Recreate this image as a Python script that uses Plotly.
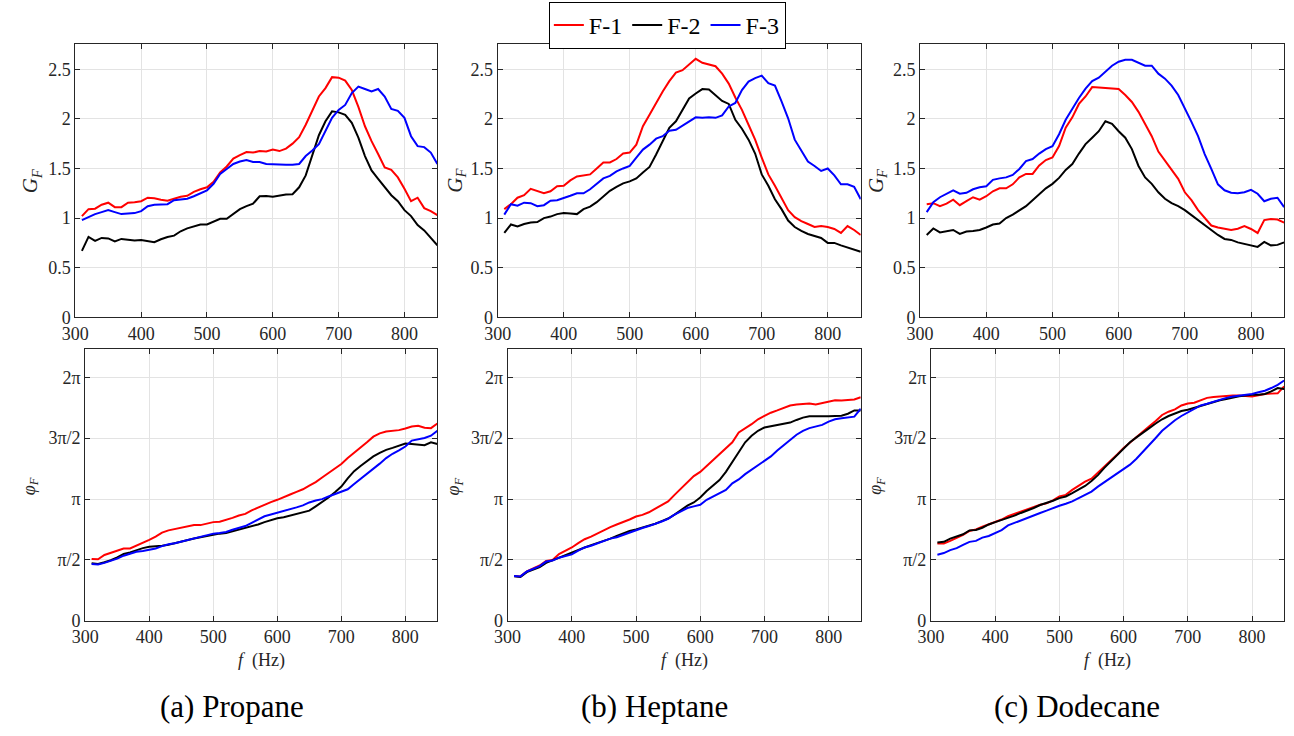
import math
import plotly.graph_objects as go
from plotly.subplots import make_subplots

# ---------------- data ----------------
freq = list(range(310, 860, 10))
series_names = ["F-1", "F-2", "F-3"]
series_colors = ["#ff0000", "#000000", "#0000ff"]
captions = ["(a) Propane", "(b) Heptane", "(c) Dodecane"]

# Gain G_F  -- propane
gain_propane_f1 = [1.02,1.09,1.095,1.135,1.155,1.11,1.11,1.155,1.16,1.17,
                   1.205,1.2,1.185,1.175,1.195,1.215,1.225,1.265,1.29,1.31,
                   1.365,1.46,1.52,1.6,1.635,1.665,1.66,1.675,1.67,1.69,
                   1.675,1.70,1.75,1.815,1.94,2.09,2.225,2.31,2.42,2.415,
                   2.385,2.29,2.12,1.925,1.775,1.645,1.51,1.485,1.41,1.295,
                   1.17,1.205,1.10,1.07,1.03]
gain_propane_f2 = [0.67,0.81,0.77,0.80,0.795,0.765,0.79,0.78,0.775,0.78,
                   0.77,0.757,0.787,0.81,0.823,0.867,0.896,0.92,0.936,0.936,
                   0.963,0.993,0.993,1.043,1.09,1.12,1.145,1.22,1.222,1.215,
                   1.228,1.238,1.24,1.31,1.43,1.63,1.835,1.975,2.075,2.065,
                   2.04,1.96,1.81,1.625,1.48,1.395,1.31,1.23,1.17,1.08,
                   1.02,0.93,0.876,0.80,0.725]
gain_propane_f3 = [0.98,1.01,1.04,1.06,1.08,1.06,1.04,1.045,1.05,1.07,
                   1.12,1.135,1.135,1.14,1.18,1.19,1.195,1.22,1.25,1.28,
                   1.345,1.445,1.495,1.545,1.57,1.585,1.565,1.565,1.545,1.54,
                   1.537,1.537,1.537,1.545,1.625,1.68,1.745,1.875,2.01,2.09,
                   2.14,2.26,2.325,2.30,2.275,2.30,2.225,2.10,2.08,2.01,
                   1.825,1.725,1.715,1.66,1.545]

# Gain G_F  -- heptane
gain_heptane_f1 = [1.09,1.14,1.205,1.23,1.295,1.27,1.25,1.27,1.32,1.325,
                   1.38,1.42,1.43,1.44,1.50,1.56,1.56,1.595,1.65,1.66,
                   1.74,1.925,2.04,2.165,2.275,2.38,2.465,2.49,2.55,2.605,
                   2.565,2.545,2.53,2.455,2.355,2.215,2.09,1.94,1.79,1.61,
                   1.44,1.325,1.21,1.08,1.01,0.97,0.94,0.91,0.92,0.91,
                   0.89,0.85,0.92,0.88,0.83]
gain_heptane_f2 = [0.85,0.935,0.915,0.94,0.955,0.96,1.00,1.015,1.04,1.05,
                   1.045,1.04,1.09,1.115,1.16,1.215,1.275,1.315,1.35,1.37,
                   1.40,1.46,1.515,1.64,1.775,1.91,1.975,2.09,2.205,2.255,
                   2.30,2.295,2.24,2.18,2.15,1.99,1.90,1.79,1.65,1.44,
                   1.325,1.19,1.09,0.975,0.91,0.87,0.84,0.82,0.80,0.75,
                   0.75,0.725,0.705,0.68,0.66]
gain_heptane_f3 = [1.035,1.14,1.125,1.155,1.15,1.12,1.13,1.175,1.18,1.20,
                   1.225,1.25,1.25,1.29,1.35,1.40,1.425,1.47,1.50,1.525,
                   1.61,1.69,1.74,1.80,1.825,1.88,1.89,1.93,1.97,2.015,
                   2.01,2.015,2.01,2.035,2.125,2.16,2.29,2.375,2.41,2.435,
                   2.36,2.335,2.175,2.005,1.79,1.675,1.57,1.525,1.475,1.50,
                   1.43,1.34,1.34,1.315,1.19]

# Gain G_F  -- dodecane
gain_dodecane_f1 = [1.14,1.15,1.12,1.145,1.185,1.13,1.17,1.21,1.185,1.22,
                    1.27,1.30,1.30,1.34,1.41,1.445,1.445,1.53,1.585,1.61,
                    1.725,1.91,2.015,2.15,2.225,2.32,2.315,2.31,2.305,2.30,
                    2.24,2.17,2.07,1.94,1.825,1.67,1.575,1.485,1.395,1.26,
                    1.18,1.08,1.00,0.925,0.905,0.895,0.88,0.893,0.92,0.89,
                    0.85,0.98,0.99,0.985,0.955]
gain_dodecane_f2 = [0.83,0.895,0.855,0.865,0.88,0.84,0.865,0.87,0.88,0.905,
                    0.935,0.945,1.00,1.035,1.08,1.12,1.18,1.245,1.30,1.345,
                    1.405,1.485,1.545,1.65,1.745,1.81,1.875,1.975,1.95,1.875,
                    1.81,1.695,1.525,1.41,1.345,1.26,1.195,1.15,1.12,1.08,
                    1.03,0.98,0.93,0.88,0.83,0.79,0.78,0.755,0.74,0.73,
                    0.71,0.76,0.725,0.73,0.755]
gain_dodecane_f3 = [1.06,1.16,1.21,1.245,1.28,1.245,1.255,1.29,1.31,1.32,
                    1.385,1.40,1.41,1.435,1.495,1.575,1.595,1.65,1.695,1.725,
                    1.845,1.99,2.10,2.21,2.305,2.38,2.415,2.475,2.535,2.575,
                    2.595,2.595,2.565,2.535,2.535,2.455,2.405,2.335,2.24,2.11,
                    1.97,1.825,1.645,1.495,1.34,1.28,1.255,1.25,1.26,1.285,
                    1.245,1.17,1.195,1.205,1.11]

# Phase phi_F (rad) -- propane
phase_propane_f1 = [1.595,1.586,1.696,1.747,1.807,1.866,1.866,1.934,2.019,2.086,
                    2.171,2.273,2.332,2.366,2.40,2.443,2.468,2.468,2.502,2.545,
                    2.553,2.595,2.655,2.714,2.757,2.85,2.926,2.994,3.062,3.121,
                    3.198,3.257,3.325,3.393,3.486,3.579,3.698,3.817,3.927,4.046,
                    4.198,4.326,4.461,4.606,4.75,4.835,4.885,4.894,4.919,4.962,
                    5.013,5.03,4.979,4.97,5.089]
phase_propane_f2 = [1.484,1.467,1.51,1.561,1.637,1.722,1.764,1.824,1.874,1.908,
                    1.917,1.934,1.959,2.002,2.044,2.078,2.12,2.154,2.188,2.222,
                    2.248,2.265,2.307,2.341,2.383,2.443,2.485,2.545,2.604,2.646,
                    2.672,2.714,2.74,2.782,2.841,2.952,3.062,3.181,3.316,3.461,
                    3.673,3.859,3.995,4.122,4.241,4.334,4.41,4.461,4.512,4.572,
                    4.563,4.538,4.529,4.606,4.563]
phase_propane_f3 = [1.467,1.45,1.493,1.544,1.603,1.679,1.73,1.781,1.798,1.824,
                    1.866,1.925,1.976,2.002,2.044,2.087,2.12,2.163,2.205,2.248,
                    2.265,2.29,2.349,2.40,2.443,2.528,2.612,2.697,2.74,2.782,
                    2.833,2.884,2.926,2.977,3.053,3.104,3.138,3.206,3.265,3.316,
                    3.393,3.528,3.656,3.783,3.927,4.054,4.198,4.309,4.394,4.495,
                    4.648,4.682,4.716,4.775,4.902]

# Phase phi_F (rad) -- heptane
phase_heptane_f1 = [1.153,1.145,1.272,1.34,1.425,1.544,1.569,1.722,1.807,1.891,
                    2.002,2.103,2.171,2.256,2.341,2.417,2.485,2.545,2.612,2.689,
                    2.731,2.799,2.892,2.994,3.079,3.248,3.418,3.588,3.732,3.842,
                    3.995,4.156,4.309,4.436,4.606,4.86,4.962,5.072,5.199,5.284,
                    5.369,5.428,5.496,5.556,5.581,5.598,5.607,5.581,5.624,5.666,
                    5.691,5.683,5.691,5.708,5.768]
phase_heptane_f2 = [1.145,1.128,1.255,1.323,1.383,1.493,1.561,1.637,1.705,1.764,
                    1.832,1.891,1.951,2.002,2.061,2.12,2.188,2.256,2.316,2.358,
                    2.40,2.443,2.502,2.57,2.638,2.74,2.85,2.969,3.053,3.181,
                    3.35,3.478,3.63,3.842,4.097,4.377,4.606,4.775,4.902,4.987,
                    5.021,5.055,5.089,5.114,5.182,5.242,5.276,5.284,5.276,5.276,
                    5.284,5.293,5.343,5.428,5.428]
phase_heptane_f3 = [1.153,1.145,1.272,1.34,1.408,1.527,1.552,1.628,1.679,1.713,
                    1.807,1.891,1.934,1.993,2.061,2.12,2.154,2.214,2.29,2.341,
                    2.392,2.443,2.494,2.561,2.629,2.74,2.824,2.909,2.952,2.994,
                    3.121,3.206,3.291,3.376,3.545,3.647,3.783,3.902,4.012,4.122,
                    4.241,4.394,4.521,4.665,4.801,4.902,4.97,5.004,5.055,5.14,
                    5.199,5.225,5.242,5.267,5.471]

# Phase phi_F (rad) -- dodecane
phase_dodecane_f1 = [1.993,1.993,2.061,2.129,2.214,2.316,2.358,2.426,2.485,2.545,
                     2.612,2.697,2.757,2.816,2.884,2.952,2.994,3.028,3.104,3.206,
                     3.249,3.376,3.478,3.588,3.664,3.817,3.969,4.139,4.292,4.461,
                     4.606,4.733,4.877,5.021,5.157,5.31,5.394,5.454,5.556,5.607,
                     5.624,5.691,5.751,5.776,5.793,5.81,5.81,5.81,5.793,5.785,
                     5.818,5.852,5.861,5.869,6.047]
phase_dodecane_f2 = [2.019,2.036,2.12,2.171,2.231,2.332,2.341,2.40,2.485,2.545,
                     2.595,2.655,2.714,2.782,2.841,2.909,2.986,3.036,3.096,3.164,
                     3.206,3.291,3.376,3.478,3.605,3.758,3.944,4.114,4.283,4.436,
                     4.606,4.733,4.843,4.97,5.089,5.199,5.284,5.352,5.411,5.445,
                     5.496,5.556,5.598,5.64,5.691,5.725,5.767,5.793,5.81,5.835,
                     5.835,5.852,5.92,6.005,5.98]
phase_dodecane_f3 = [1.705,1.747,1.824,1.874,1.959,2.036,2.061,2.146,2.188,2.256,
                     2.341,2.46,2.528,2.587,2.655,2.723,2.782,2.841,2.909,2.969,
                     3.02,3.079,3.164,3.249,3.333,3.461,3.571,3.69,3.80,3.902,
                     4.029,4.181,4.351,4.521,4.716,4.902,5.047,5.174,5.284,5.369,
                     5.454,5.556,5.598,5.649,5.708,5.751,5.785,5.81,5.818,5.852,
                     5.895,5.937,6.005,6.089,6.2]

gain_ticks = [0, 0.5, 1, 1.5, 2, 2.5]
gain_ticktext = ["0", "0.5", "1", "1.5", "2", "2.5"]
phase_ticks = [0, math.pi / 2, math.pi, 3 * math.pi / 2, 2 * math.pi]
phase_ticktext = ["0", "π/2", "π", "3π/2", "2π"]
freq_ticks = [300, 400, 500, 600, 700, 800]

gain_data = [
    [gain_propane_f1, gain_propane_f2, gain_propane_f3],
    [gain_heptane_f1, gain_heptane_f2, gain_heptane_f3],
    [gain_dodecane_f1, gain_dodecane_f2, gain_dodecane_f3],
]
phase_data = [
    [phase_propane_f1, phase_propane_f2, phase_propane_f3],
    [phase_heptane_f1, phase_heptane_f2, phase_heptane_f3],
    [phase_dodecane_f1, phase_dodecane_f2, phase_dodecane_f3],
]

# ---------------- figure ----------------
W, H = 1294, 736
FONT = "'Liberation Serif', 'Times New Roman', Times, 'DejaVu Serif', serif"
AX = "#262626"

fig = make_subplots(rows=2, cols=3)

for c in range(3):
    for s in range(3):
        fig.add_trace(go.Scatter(
            x=freq, y=gain_data[c][s], mode="lines", name=series_names[s],
            line=dict(color=series_colors[s], width=2),
            legendgroup=series_names[s], showlegend=(c == 0)),
            row=1, col=c + 1)
        fig.add_trace(go.Scatter(
            x=freq, y=phase_data[c][s], mode="lines", name=series_names[s],
            line=dict(color=series_colors[s], width=2),
            legendgroup=series_names[s], showlegend=False),
            row=2, col=c + 1)

def px_x(p):
    return p / W

def px_y(p):
    return 1 - p / H

# panel pixel boxes (left, right)
top_x = [(62, 428), (489, 856), (916, 1284)]
bot_x = [(72, 428), (499, 856), (927, 1284)]
top_y = (45, 321.7)
bot_y = (354.3, 629.3)

common_axis = dict(
    showline=True, linecolor=AX, linewidth=1, mirror="allticks",
    ticks="inside", ticklen=5, tickcolor=AX, tickwidth=1,
    showgrid=True, gridcolor="#e3e3e3", gridwidth=1, zeroline=False,
    tickfont=dict(family=FONT, size=18, color=AX),
)

layout_axes = {}
for c in range(3):
    ti, bi = c + 1, c + 4
    tkx = "xaxis" if ti == 1 else f"xaxis{ti}"
    tky = "yaxis" if ti == 1 else f"yaxis{ti}"
    layout_axes[tkx] = dict(common_axis, domain=[px_x(top_x[c][0]), px_x(top_x[c][1])],
                            range=[300, 850], tickvals=freq_ticks)
    layout_axes[tky] = dict(common_axis, domain=[px_y(top_y[1]), px_y(top_y[0])],
                            range=[0, 2.75], tickvals=gain_ticks, ticktext=gain_ticktext)
    layout_axes[f"xaxis{bi}"] = dict(common_axis, domain=[px_x(bot_x[c][0]), px_x(bot_x[c][1])],
                                     range=[300, 850], tickvals=freq_ticks)
    layout_axes[f"yaxis{bi}"] = dict(common_axis, domain=[px_y(bot_y[1]), px_y(bot_y[0])],
                                     range=[0, 7], tickvals=phase_ticks, ticktext=phase_ticktext)

fig.update_layout(**layout_axes)

annotations = []
gf_x = [17, 446, 872]
pf_x = [16, 445, 872]
xt_x = [250, 677.5, 1105.5]
cap_x = [220, 647.5, 1075]
for c in range(3):
    annotations.append(dict(
        text="<i>G</i><sub><i>F</i></sub>", x=px_x(gf_x[c]), y=px_y(183),
        xref="paper", yref="paper", showarrow=False, textangle=-90,
        xanchor="center", yanchor="middle",
        font=dict(family=FONT, size=21, color=AX)))
    annotations.append(dict(
        text="<i>φ</i><sub><i>F</i></sub>", x=px_x(pf_x[c]), y=px_y(493),
        xref="paper", yref="paper", showarrow=False, textangle=-90,
        xanchor="center", yanchor="middle",
        font=dict(family=FONT, size=18, color=AX)))
    annotations.append(dict(
        text="<i>f</i>  (Hz)", x=px_x(xt_x[c]), y=px_y(670),
        xref="paper", yref="paper", showarrow=False,
        xanchor="center", yanchor="middle",
        font=dict(family=FONT, size=18, color=AX)))
    annotations.append(dict(
        text=captions[c], x=px_x(cap_x[c]), y=px_y(716),
        xref="paper", yref="paper", showarrow=False,
        xanchor="center", yanchor="middle",
        font=dict(family=FONT, size=31, color="#000000")))

fig.update_layout(
    width=W, height=H,
    margin=dict(l=0, r=0, t=0, b=0),
    paper_bgcolor="white", plot_bgcolor="white",
    font=dict(family=FONT, color=AX),
    annotations=annotations,
    showlegend=True,
    legend=dict(
        orientation="h", x=px_x(660.5), y=px_y(2), xanchor="center", yanchor="top",
        bgcolor="white", bordercolor="#000000", borderwidth=1,
        font=dict(family=FONT, size=24, color="#000000"),
        itemwidth=30, tracegroupgap=0, itemclick=False,
    ),
)

fig.write_html("out.html")
